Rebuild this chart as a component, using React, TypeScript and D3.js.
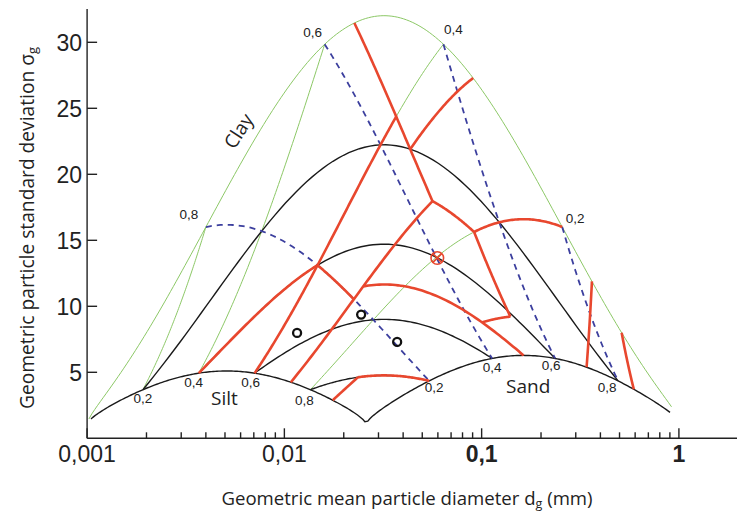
import React from "react";
import * as d3 from "d3";

// Composition = [clay %, silt %, sand %]
type Comp = [number, number, number];

// Representative class diameters (mm) for clay, silt and sand
const CLASS_MEANS_MM = [0.001, 0.026, 1.025];

// Isoline fractions (%) and their printed labels
const GRID_FRACTIONS = [20, 40, 60, 80];
const GRID_LABELS = ["0,2", "0,4", "0,6", "0,8"];

// Outline of the texture domain
const CLAY_SILT_EDGE: Comp[] = [[98.6, 1.4, 0], [0.5, 99.5, 0]];
const SILT_SAND_EDGE: Comp[] = [[0, 99.5, 0.5], [0, 3.5, 96.5]];
const CLAY_SAND_EDGE: Comp[] = [[99.7, 0, 0.3], [1.6, 0, 98.4]];

// USDA texture class boundaries
const CLASS_BOUNDARIES: Comp[][] = [
  [[55, 0, 45], [27, 28, 45]],
  [[35, 20, 45], [35, 0, 65]],
  [[40, 15, 45], [40, 40, 20]],
  [[40, 40, 20], [60, 40, 0]],
  [[40, 40, 20], [40, 60, 0]],
  [[40, 40, 20], [27, 53, 20]],
  [[27, 73, 0], [27, 28, 45]],
  [[27, 28, 45], [20, 28, 52]],
  [[20, 28, 52], [20, 0, 80]],
  [[20, 28, 52], [7, 41, 52]],
  [[7, 41, 52], [7, 50, 43]],
  [[27, 50, 23], [0, 50, 50]],
  [[0, 80, 20], [12, 80, 8]],
  [[12, 80, 8], [12, 88, 0]],
  [[0, 30, 70], [15, 0, 85]],
  [[0, 15, 85], [10, 0, 90]],
];

// Soil samples [dg mm, sigma g]
const SAMPLES: [number, number][] = [
  [0.0116, 7.98],
  [0.0245, 9.37],
  [0.0373, 7.3],
];
const HIGHLIGHT_SAMPLE: [number, number] = [0.0596, 13.66];

const Y_TICKS = [5, 10, 15, 20, 25, 30];
const X_MAJOR = [0.001, 0.01, 0.1, 1];
const X_MAJOR_LABELS = ["0,001", "0,01", "0,1", "1"];
const X_MAJOR_BOLD = [false, false, true, true];

const REGION_NAMES = ["Clay", "Silt", "Sand"];

// label offsets (px) for fraction labels on each edge
const SILT_LABEL_OFFSET = [[0, 13], [-5, 14], [-4, 14], [-6, 15]];
const SAND_LABEL_OFFSET = [[5, 11], [0, 14], [-4, 12], [-11, 11]];
const CLAY_LABEL_OFFSET = [[13, -4], [10, -10], [-12, -7], [-17, -8]];

const W = 737;
const H = 515;

const LN = CLASS_MEANS_MM.map(Math.log);

// Shirazi–Boersma mapping from texture fractions to (dg, sigma g)
function project(c: Comp): [number, number] {
  const f = c.map((v) => v / 100);
  const a = f[0] * LN[0] + f[1] * LN[1] + f[2] * LN[2];
  const b = f[0] * LN[0] ** 2 + f[1] * LN[1] ** 2 + f[2] * LN[2] ** 2 - a * a;
  return [Math.exp(a), Math.exp(Math.sqrt(Math.max(b, 0)))];
}

// resample a straight composition segment through the projection
function resample(p: Comp[], n = 90): [number, number][] {
  const interp = d3.interpolateArray(p[0], p[1]);
  return d3.range(0, n + 1).map((i) => project(interp(i / n) as Comp));
}

export default function App() {
  const x = d3.scaleLog().domain([0.001, 1.97]).range([87.1, 737]);
  const y = d3.scaleLinear().domain([0, 32.5]).range([438.3, 9.3]);
  const line = d3
    .line<[number, number]>()
    .x((d) => x(d[0]))
    .y((d) => y(d[1]));

  const siltLines = GRID_FRACTIONS.map((s) => resample([[100 - s, s, 0], [0, s, 100 - s]]));
  const clayLines = GRID_FRACTIONS.map((c) => resample([[c, 100 - c, 0], [c, 0, 100 - c]]));
  const sandLines = GRID_FRACTIONS.map((t) => resample([[100 - t, 0, t], [0, 100 - t, t]]));
  const baseOutline = [...resample(CLAY_SILT_EDGE, 150), ...resample(SILT_SAND_EDGE, 150)];

  const minorTicks: number[] = [];
  [0.001, 0.01, 0.1].forEach((dec) => d3.range(2, 10).forEach((m) => minorTicks.push(dec * m)));

  const labelFont = "'Liberation Sans', Arial, sans-serif";
  const textFont = "'Open Sans', 'Noto Sans', sans-serif";

  const fracLabel = (comp: Comp, text: string, off: number[], key: string) => {
    const [dg, sg] = project(comp);
    return (
      <text
        key={key}
        x={x(dg) + off[0]}
        y={y(sg) + off[1]}
        textAnchor="middle"
        fontFamily={labelFont}
        fontSize={13.5}
        fill="#222"
      >
        {text}
      </text>
    );
  };

  const axisColor = "#222";
  const hx = x(HIGHLIGHT_SAMPLE[0]);
  const hy = y(HIGHLIGHT_SAMPLE[1]);

  return (
    <svg
      width={W}
      height={H}
      style={{ position: "absolute", left: 0, top: 0, background: "#fff" }}
    >
      <rect width={W} height={H} fill="#fff" />

      {/* constant-clay isolines and the clay–sand edge */}
      <g fill="none" stroke="#8cc866" strokeWidth={1}>
        {clayLines.map((l, i) => (
          <path key={i} d={line(l) || ""} />
        ))}
        <path d={line(resample(CLAY_SAND_EDGE, 200)) || ""} />
      </g>

      {/* constant-silt isolines and the lower outline */}
      <g fill="none" stroke="#1a1a1a" strokeWidth={1.4} strokeLinejoin="miter">
        {siltLines.map((l, i) => (
          <path key={i} d={line(l) || ""} />
        ))}
        <path d={line(baseOutline) || ""} />
      </g>

      {/* constant-sand isolines */}
      <g fill="none" stroke="#3c3f9e" strokeWidth={1.8} strokeDasharray="6,5">
        {sandLines.map((l, i) => (
          <path key={i} d={line(l) || ""} />
        ))}
      </g>

      {/* texture class boundaries */}
      <g fill="none" stroke="#e8472e" strokeWidth={2.6} strokeLinejoin="round">
        {CLASS_BOUNDARIES.map((seg, i) => (
          <path key={i} d={line(resample(seg, 60)) || ""} />
        ))}
      </g>

      {/* samples */}
      <g fill="none" stroke="#111" strokeWidth={2.3}>
        {SAMPLES.map((s, i) => (
          <circle key={i} cx={x(s[0])} cy={y(s[1])} r={4} />
        ))}
      </g>
      <g fill="none" stroke="#e8472e" strokeWidth={1.6}>
        <circle cx={hx} cy={hy} r={6.3} />
        <line x1={hx - 4.4} y1={hy - 4.4} x2={hx + 4.4} y2={hy + 4.4} />
        <line x1={hx - 4.4} y1={hy + 4.4} x2={hx + 4.4} y2={hy - 4.4} />
      </g>

      {/* fraction labels */}
      {GRID_FRACTIONS.map((s, i) =>
        fracLabel([100 - s, s, 0], GRID_LABELS[i], SILT_LABEL_OFFSET[i], "si" + i)
      )}
      {GRID_FRACTIONS.map((t, i) =>
        fracLabel([0, 100 - t, t], GRID_LABELS[i], SAND_LABEL_OFFSET[i], "sa" + i)
      )}
      {GRID_FRACTIONS.map((c, i) =>
        fracLabel([c, 0, 100 - c], GRID_LABELS[i], CLAY_LABEL_OFFSET[i], "cl" + i)
      )}

      {/* region names */}
      <text
        x={240}
        y={132}
        fontFamily={textFont}
        fontSize={19}
        fill="#222"
        textAnchor="middle"
        dominantBaseline="middle"
        transform="rotate(-57 240 132)"
      >
        {REGION_NAMES[0]}
      </text>
      <text x={211} y={405} fontFamily={textFont} fontSize={19} fill="#222">
        {REGION_NAMES[1]}
      </text>
      <text x={506} y={393} fontFamily={textFont} fontSize={19} fill="#222">
        {REGION_NAMES[2]}
      </text>

      {/* axes */}
      <g stroke={axisColor} strokeWidth={1.4} fill="none">
        <line x1={x(0.001)} y1={y(0)} x2={x(0.001)} y2={9} />
        <line x1={x(0.001)} y1={y(0)} x2={W} y2={y(0)} />
        {Y_TICKS.map((t) => (
          <line key={t} x1={x(0.001)} x2={x(0.001) + 10} y1={y(t)} y2={y(t)} />
        ))}
        {X_MAJOR.map((t) => (
          <line key={t} x1={x(t)} x2={x(t)} y1={y(0)} y2={y(0) - 10} />
        ))}
        {minorTicks.map((t, i) => (
          <line key={i} x1={x(t)} x2={x(t)} y1={y(0)} y2={y(0) - 6} />
        ))}
      </g>
      {Y_TICKS.map((t) => (
        <text
          key={t}
          x={82}
          y={y(t)}
          dy="0.36em"
          textAnchor="end"
          fontFamily={labelFont}
          fontSize={23}
          fill="#222"
        >
          {t}
        </text>
      ))}
      {X_MAJOR.map((t, i) => (
        <text
          key={t}
          x={x(t)}
          y={462}
          textAnchor="middle"
          fontFamily={labelFont}
          fontSize={23}
          fontWeight={X_MAJOR_BOLD[i] ? "bold" : "normal"}
          fill="#222"
        >
          {X_MAJOR_LABELS[i]}
        </text>
      ))}

      {/* axis titles */}
      <text
        x={407}
        y={505}
        textAnchor="middle"
        fontFamily={textFont}
        fontSize={18.6}
        fill="#222"
      >
        Geometric mean particle diameter d
        <tspan fontSize={12.5} dy={3}>g</tspan>
        <tspan dy={-3}> (mm)</tspan>
      </text>
      <text
        transform="translate(34 228) rotate(-90)"
        textAnchor="middle"
        fontFamily={textFont}
        fontSize={19.2}
        fill="#222"
      >
        Geometric particle standard deviation σ
        <tspan fontSize={13} dy={3}>g</tspan>
      </text>
    </svg>
  );
}
